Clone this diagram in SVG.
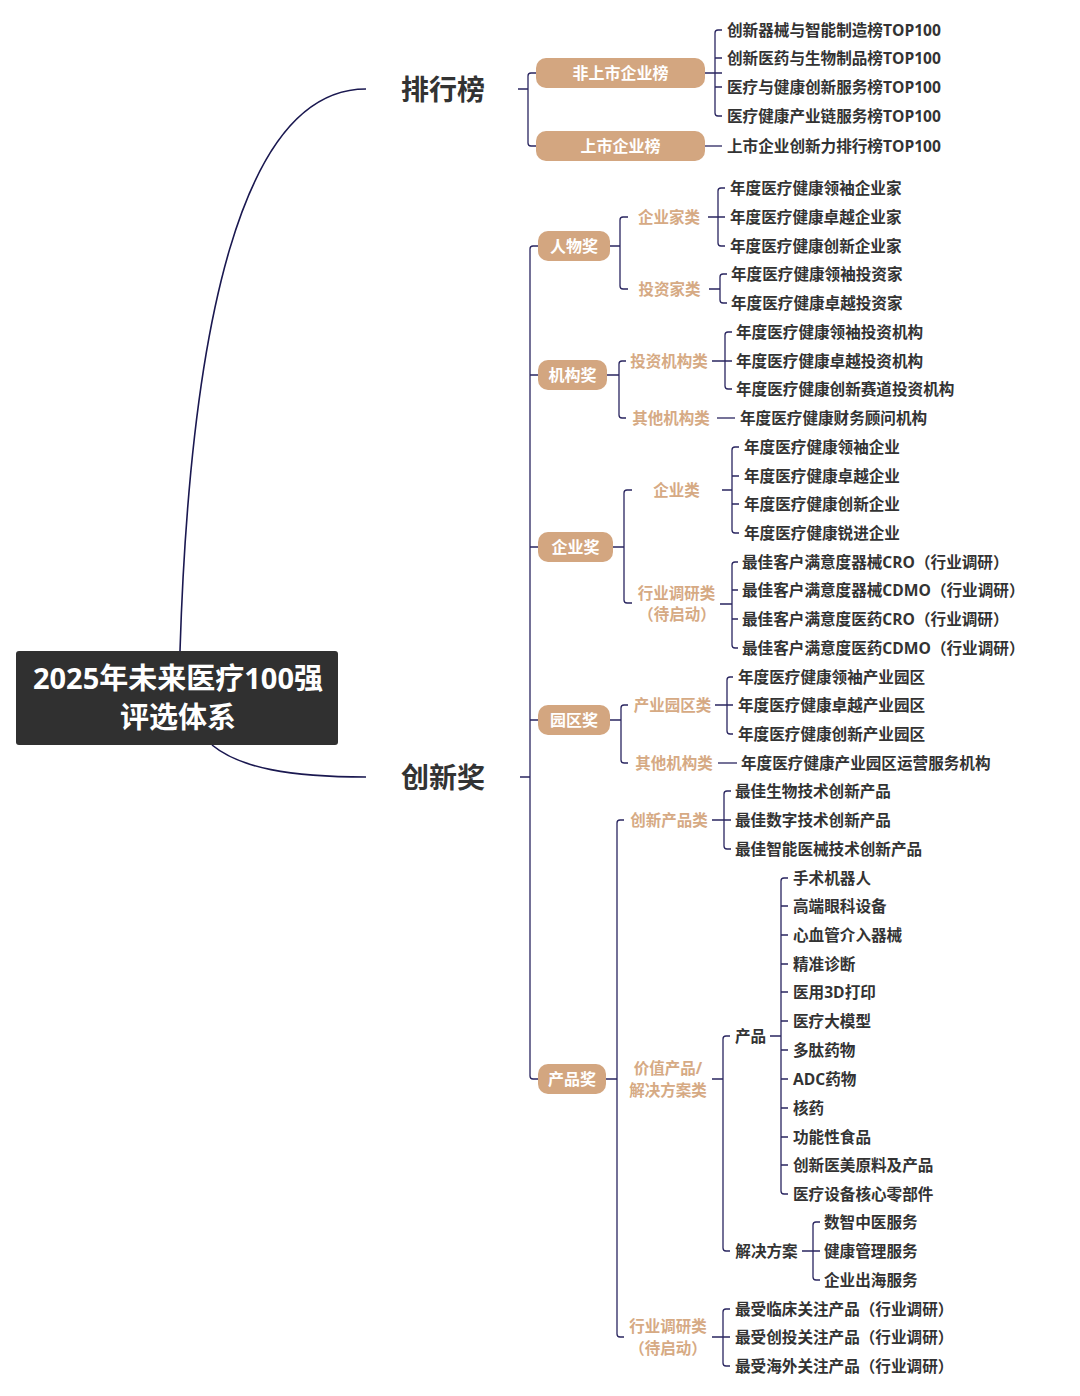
<svg xmlns="http://www.w3.org/2000/svg" width="1080" height="1396" viewBox="0 0 1080 1396">
<style>
text{font-family:"Open Sans","Noto Sans CJK SC",sans-serif;font-weight:700;dominant-baseline:central}
.root{fill:#fff;font-size:29px;text-anchor:middle}
.l1{fill:#333;font-size:28px;text-anchor:middle}
.pill{fill:#d3a680}
.pt{fill:#fff;font-size:16px;text-anchor:middle}
.cat{fill:#d6aa84;font-size:15.5px;text-anchor:middle}
.sub{fill:#333;font-size:15.6px;text-anchor:middle}
.leaf{fill:#333;font-size:15.6px}
.c{stroke:#2a2660;fill:none;stroke-width:1.3}
.m{stroke:#1a1850;fill:none;stroke-width:1.6}
</style>
<rect width="1080" height="1396" fill="#fff"/>
<g id="connectors">
<path class="m" d="M180,651 C190,330 240,89 366,89"/>
<path class="m" d="M212,745 C240,768 290,777 366,777"/>
<!-- 排行榜 -->
<path class="c" d="M518,89H528 M536,73H531Q528,73 528,76V143Q528,146 531,146H536"/>
<path class="c" d="M705,73H722 M722,30H718Q715,30 715,33V113Q715,116 718,116H722 M715,58H722 M715,87H722"/>
<path class="c" d="M705,146H722"/>
<!-- 创新奖 -->
<path class="c" d="M520,777H530 M538,246H533Q530,246 530,249V1076Q530,1079 533,1079H538 M530,375H538 M530,547H538 M530,720H538"/>
<!-- 人物奖 -->
<path class="c" d="M610,246H620 M628,217H623Q620,217 620,220V286Q620,289 623,289H628"/>
<path class="c" d="M708,217H725 M725,188H721Q718,188 718,191V243Q718,246 721,246H725"/>
<path class="c" d="M709,289H720 M727,274H723Q720,274 720,277V300Q720,303 723,303H727"/>
<!-- 机构奖 -->
<path class="c" d="M607,375H619 M626,361H622Q619,361 619,364V415Q619,418 622,418H626"/>
<path class="c" d="M712,361H732 M732,332H728Q725,332 725,335V386Q725,389 728,389H732"/>
<path class="c" d="M717,418H735"/>
<!-- 企业奖 -->
<path class="c" d="M613,547H624 M632,490H627Q624,490 624,493V600Q624,603 627,603H632"/>
<path class="c" d="M722,490H732 M739,447H735Q732,447 732,450V530Q732,533 735,533H739 M732,476H739 M732,504H739"/>
<path class="c" d="M720,604H732 M738,562H735Q732,562 732,565V645Q732,648 735,648H738 M732,590H738 M732,619H738"/>
<!-- 园区奖 -->
<path class="c" d="M610,720H621 M628,705H624Q621,705 621,708V760Q621,763 624,763H628"/>
<path class="c" d="M715,705H733 M733,677H730Q727,677 727,680V731Q727,734 730,734H733"/>
<path class="c" d="M718,763H737"/>
<!-- 产品奖 -->
<path class="c" d="M606,1079H617 M624,820H620Q617,820 617,823V1334Q617,1337 620,1337H624"/>
<path class="c" d="M712,820H731 M731,791H727Q724,791 724,794V846Q724,849 727,849H731"/>
<path class="c" d="M712,1079H723 M730,1036H726Q723,1036 723,1039V1248Q723,1251 726,1251H730"/>
<path class="c" d="M770,1036H781 M788,878H784Q781,878 781,881V1191Q781,1194 784,1194H788 M781,906H788 M781,935H788 M781,964H788 M781,992H788 M781,1021H788 M781,1050H788 M781,1079H788 M781,1108H788 M781,1137H788 M781,1165H788"/>
<path class="c" d="M802,1251H820 M820,1222H816Q813,1222 813,1225V1277Q813,1280 816,1280H820"/>
<path class="c" d="M712,1337H730 M730,1309H726Q723,1309 723,1312V1363Q723,1366 726,1366H730"/>
</g>
<g id="root">
<rect x="16" y="651" width="322" height="94" rx="3" fill="#303030"/>
<text class="root" x="178" y="677">2025年未来医疗100强</text>
<text class="root" x="178" y="716">评选体系</text>
</g>
<g id="n-paihang"><text class="l1" x="443" y="89">排行榜</text></g>
<g id="n-chuangxin"><text class="l1" x="443" y="777">创新奖</text></g>
<g id="n-feishangshi"><rect class="pill" x="536" y="58" width="169" height="30" rx="10"/><text class="pt" x="620.5" y="73">非上市企业榜</text></g>
<g id="n-shangshi"><rect class="pill" x="536" y="131" width="169" height="30" rx="10"/><text class="pt" x="620.5" y="146">上市企业榜</text></g>
<g id="leaves-paihang">
<text class="leaf" x="727" y="30">创新器械与智能制造榜TOP100</text>
<text class="leaf" x="727" y="58">创新医药与生物制品榜TOP100</text>
<text class="leaf" x="727" y="87">医疗与健康创新服务榜TOP100</text>
<text class="leaf" x="727" y="116">医疗健康产业链服务榜TOP100</text>
<text class="leaf" x="727" y="146">上市企业创新力排行榜TOP100</text>
</g>
<g id="n-renwu"><rect class="pill" x="538" y="231" width="72" height="30" rx="10"/><text class="pt" x="574" y="246">人物奖</text></g>
<g id="n-qiyejia"><text class="cat" x="669" y="217">企业家类</text>
<text class="leaf" x="730" y="188">年度医疗健康领袖企业家</text>
<text class="leaf" x="730" y="217">年度医疗健康卓越企业家</text>
<text class="leaf" x="730" y="246">年度医疗健康创新企业家</text></g>
<g id="n-touzijia"><text class="cat" x="669.5" y="289">投资家类</text>
<text class="leaf" x="731" y="274">年度医疗健康领袖投资家</text>
<text class="leaf" x="731" y="303">年度医疗健康卓越投资家</text></g>
<g id="n-jigou"><rect class="pill" x="538" y="360" width="69" height="30" rx="10"/><text class="pt" x="572.5" y="375">机构奖</text></g>
<g id="n-touzijigou"><text class="cat" x="669" y="361">投资机构类</text>
<text class="leaf" x="736" y="332">年度医疗健康领袖投资机构</text>
<text class="leaf" x="736" y="361">年度医疗健康卓越投资机构</text>
<text class="leaf" x="736" y="389">年度医疗健康创新赛道投资机构</text></g>
<g id="n-qitajigou1"><text class="cat" x="671" y="418">其他机构类</text>
<text class="leaf" x="740" y="418">年度医疗健康财务顾问机构</text></g>
<g id="n-qiye"><rect class="pill" x="538" y="532" width="75" height="30" rx="10"/><text class="pt" x="575.5" y="547">企业奖</text></g>
<g id="n-qiyelei"><text class="cat" x="676.5" y="490">企业类</text>
<text class="leaf" x="744" y="447">年度医疗健康领袖企业</text>
<text class="leaf" x="744" y="476">年度医疗健康卓越企业</text>
<text class="leaf" x="744" y="504">年度医疗健康创新企业</text>
<text class="leaf" x="744" y="533">年度医疗健康锐进企业</text></g>
<g id="n-hangye1"><text class="cat" x="676.5" y="593">行业调研类</text><text class="cat" x="677" y="614">（待启动）</text>
<text class="leaf" x="742" y="562">最佳客户满意度器械CRO（行业调研）</text>
<text class="leaf" x="742" y="590">最佳客户满意度器械CDMO（行业调研）</text>
<text class="leaf" x="742" y="619">最佳客户满意度医药CRO（行业调研）</text>
<text class="leaf" x="742" y="648">最佳客户满意度医药CDMO（行业调研）</text></g>
<g id="n-yuanqu"><rect class="pill" x="538" y="705" width="72" height="30" rx="10"/><text class="pt" x="574" y="720">园区奖</text></g>
<g id="n-chanyeyuanqu"><text class="cat" x="672.5" y="705">产业园区类</text>
<text class="leaf" x="738" y="677">年度医疗健康领袖产业园区</text>
<text class="leaf" x="738" y="705">年度医疗健康卓越产业园区</text>
<text class="leaf" x="738" y="734">年度医疗健康创新产业园区</text></g>
<g id="n-qitajigou2"><text class="cat" x="674" y="763">其他机构类</text>
<text class="leaf" x="741" y="763">年度医疗健康产业园区运营服务机构</text></g>
<g id="n-chanpin"><rect class="pill" x="538" y="1064" width="68" height="30" rx="10"/><text class="pt" x="572" y="1079">产品奖</text></g>
<g id="n-chuangxinchanpin"><text class="cat" x="669" y="820">创新产品类</text>
<text class="leaf" x="735" y="791">最佳生物技术创新产品</text>
<text class="leaf" x="735" y="820">最佳数字技术创新产品</text>
<text class="leaf" x="735" y="849">最佳智能医械技术创新产品</text></g>
<g id="n-jiazhi"><text class="cat" x="668" y="1068">价值产品/</text><text class="cat" x="668" y="1090">解决方案类</text></g>
<g id="n-chanpin2"><text class="sub" x="750.5" y="1036">产品</text>
<text class="leaf" x="793" y="878">手术机器人</text>
<text class="leaf" x="793" y="906">高端眼科设备</text>
<text class="leaf" x="793" y="935">心血管介入器械</text>
<text class="leaf" x="793" y="964">精准诊断</text>
<text class="leaf" x="793" y="992">医用3D打印</text>
<text class="leaf" x="793" y="1021">医疗大模型</text>
<text class="leaf" x="793" y="1050">多肽药物</text>
<text class="leaf" x="793" y="1079">ADC药物</text>
<text class="leaf" x="793" y="1108">核药</text>
<text class="leaf" x="793" y="1137">功能性食品</text>
<text class="leaf" x="793" y="1165">创新医美原料及产品</text>
<text class="leaf" x="793" y="1194">医疗设备核心零部件</text></g>
<g id="n-jiejue"><text class="sub" x="766.5" y="1251">解决方案</text>
<text class="leaf" x="824" y="1222">数智中医服务</text>
<text class="leaf" x="824" y="1251">健康管理服务</text>
<text class="leaf" x="824" y="1280">企业出海服务</text></g>
<g id="n-hangye2"><text class="cat" x="668" y="1326">行业调研类</text><text class="cat" x="668" y="1348">（待启动）</text>
<text class="leaf" x="735" y="1309">最受临床关注产品（行业调研）</text>
<text class="leaf" x="735" y="1337">最受创投关注产品（行业调研）</text>
<text class="leaf" x="735" y="1366">最受海外关注产品（行业调研）</text></g>
</svg>
